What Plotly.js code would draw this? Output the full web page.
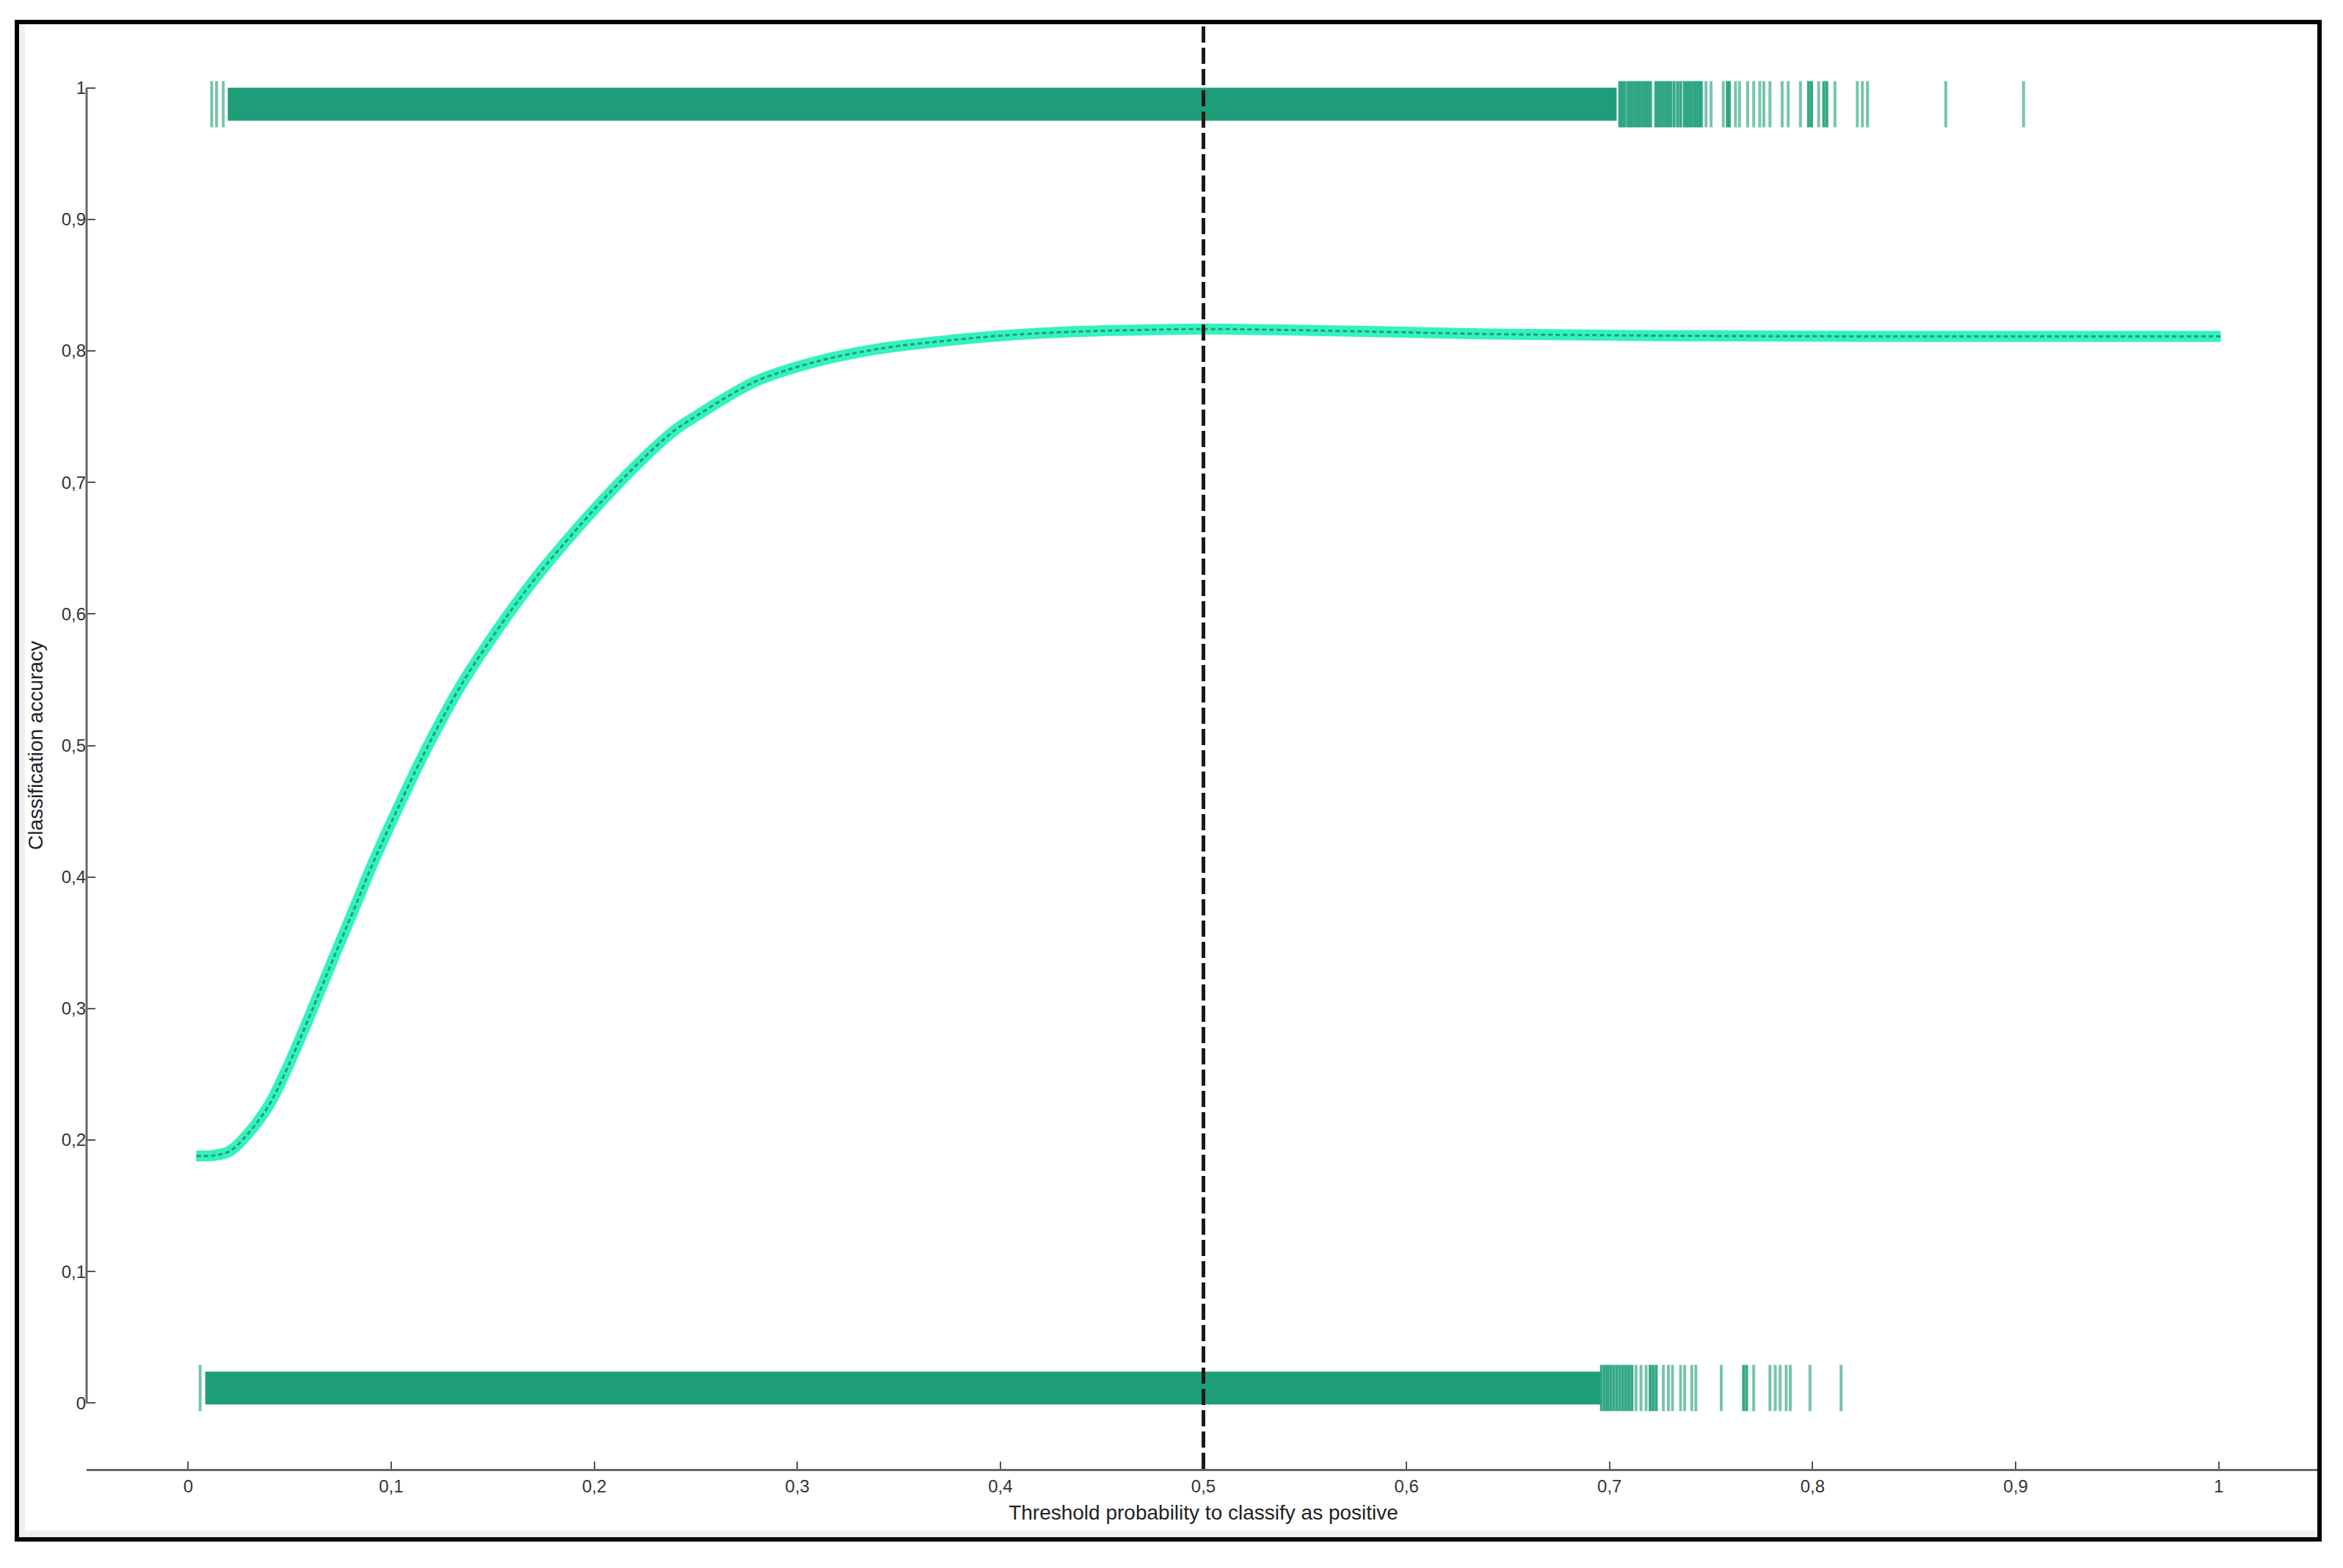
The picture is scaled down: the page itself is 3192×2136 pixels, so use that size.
<!DOCTYPE html>
<html>
<head>
<meta charset="utf-8">
<script src="https://cdn.plot.ly/plotly-3.0.1.min.js"></script>
<style>
  html, body { margin: 0; padding: 0; background: #ffffff; }
  #chart { width: 3192px; height: 2136px; }
</style>
</head>
<body>
<div id="chart"></div>
<script>
// Accuracy curve
const thresholds = [0.004, 0.012, 0.0205, 0.0293, 0.0397, 0.0468, 0.0555, 0.0643, 0.073, 0.0818,
    0.0906, 0.0994, 0.1168, 0.1344, 0.1519, 0.1694, 0.1869, 0.2045, 0.222, 0.2395,
    0.2508, 0.2658, 0.2808, 0.3108, 0.3407, 0.3707, 0.4006, 0.4306, 0.4605, 0.4995,
    0.5354, 0.5804, 0.6404, 0.7207, 0.8, 0.9, 1.001];
const accuracy = [0.188, 0.1882, 0.1916, 0.2045, 0.2263, 0.248, 0.2784, 0.311, 0.3436, 0.376,
    0.409, 0.4393, 0.4957, 0.5458, 0.587, 0.624, 0.6566, 0.687, 0.715, 0.7395,
    0.751, 0.7654, 0.7777, 0.7924, 0.8017, 0.8073, 0.8116, 0.8142, 0.8156, 0.8166,
    0.816, 0.8147, 0.8128, 0.8116, 0.8111, 0.811, 0.811];

// Predicted probabilities of the positive class (rug at y = 1)
const posBandStart = [0.0195];
const posBandEnd = [0.7035];
const posRug = [0.0116, 0.014, 0.0173,
    0.705, 0.7062, 0.7075, 0.709, 0.7102, 0.7115, 0.7128, 0.714, 0.7152, 0.7165, 0.7178, 0.719, 0.7202,
    0.7228, 0.724, 0.7252, 0.7265, 0.7278, 0.729, 0.7302, 0.7318, 0.7335, 0.735, 0.7368, 0.738, 0.7392,
    0.7405, 0.7418, 0.743, 0.7442, 0.7452,
    0.7475, 0.750, 0.756, 0.758, 0.759, 0.762, 0.764,
    0.768, 0.771, 0.774, 0.776, 0.779, 0.785, 0.788, 0.794, 0.798, 0.7995,
    0.803, 0.8055, 0.807, 0.811, 0.822, 0.8245, 0.827, 0.8656, 0.9039];

// Predicted probabilities of the negative class (rug at y = 0)
const negBandStart = [0.0084];
const negBandEnd = [0.6955];
const negRug = [0.0059, 0.696, 0.6975, 0.699, 0.7005, 0.702, 0.7035, 0.705, 0.7065, 0.708, 0.7095,
    0.711, 0.713, 0.7155, 0.718, 0.720, 0.7215, 0.723, 0.7265, 0.729, 0.731,
    0.735, 0.737, 0.7405, 0.7425, 0.755, 0.766, 0.7675, 0.771, 0.779, 0.7816,
    0.784, 0.787, 0.789, 0.7987, 0.814];

const cutoff = 0.5;

const W = 3192, H = 2136;
const M = { l: 118, r: 31, t: 30, b: 135 };
const plotW = W - M.l - M.r, plotH = H - M.t - M.b;
// pixel -> paper helpers for the screenshot frame
const px = x => (x - M.l) / plotW;
const py = y => (H - M.b - y) / plotH;

const rugColor = '#1e9e78';
const rugThin = 'rgba(27,158,119,0.6)';
const rugH = 0.025;
const posY = 1 - rugH / 2;
const negY = 0 + rugH / 2 - 0.001;

function band(starts, ends, yc) {
    return {
        type: 'bar', orientation: 'h',
        base: starts,
        x: starts.map((s, i) => ends[i] - s),
        y: starts.map(() => yc),
        width: starts.map(() => rugH),
        marker: { color: rugColor, line: { width: 0 } },
        hoverinfo: 'skip', showlegend: false,
    };
}

function rug(vals, yc) {
    // ticks packed close together read as solid, lone ones stay light
    const colors = vals.map((v, i) => {
        const near = vals.some((w, j) => j !== i && Math.abs(w - v) < 0.0017);
        return near ? 'rgba(30,158,120,0.9)' : rugThin;
    });
    return {
        type: 'scatter', mode: 'markers',
        x: vals, y: vals.map(() => yc),
        marker: { symbol: 'line-ns', size: 45, line: { width: 4, color: colors } },
        hoverinfo: 'skip', showlegend: false,
    };
}

const tickFont = { family: 'Liberation Sans, Arial, sans-serif', size: 24, color: '#333333' };
const titleFont = { family: 'Liberation Sans, Arial, sans-serif', size: 28, color: '#222222' };

Plotly.newPlot('chart', [
    band(posBandStart, posBandEnd, posY),
    band(negBandStart, negBandEnd, negY),
    rug(posRug, posY),
    rug(negRug, negY),
    {
        x: thresholds, y: accuracy,
        type: 'scatter', mode: 'lines',
        line: { color: '#33f2bd', width: 15, shape: 'spline', smoothing: 1 },
        hoverinfo: 'skip', showlegend: false,
    },
    {
        x: thresholds, y: accuracy,
        type: 'scatter', mode: 'lines',
        line: { color: 'rgba(25,130,100,0.75)', width: 3, dash: '6px,4px', shape: 'spline', smoothing: 1 },
        hoverinfo: 'skip', showlegend: false,
    },
], {
    width: W, height: H,
    margin: M,
    separators: ',.',
    barmode: 'overlay',
    paper_bgcolor: '#ffffff',
    plot_bgcolor: '#ffffff',
    xaxis: {
        range: [-0.05, 1.05], tick0: 0, dtick: 0.1,
        showgrid: false, zeroline: false,
        showline: true, linecolor: '#666666', linewidth: 3,
        ticks: 'inside', ticklen: 10, tickwidth: 2, tickcolor: '#555555',
        tickfont: tickFont,
        title: { text: 'Threshold probability to classify as positive', font: titleFont, standoff: 14 },
    },
    yaxis: {
        range: [-0.05, 1.05], tick0: 0, dtick: 0.1,
        showgrid: false, zeroline: false, showline: false,
        ticks: 'inside', ticklen: 12, tickwidth: 2, tickcolor: '#555555',
        tickfont: tickFont,
        title: { text: 'Classification accuracy', font: titleFont, standoff: 16 },
    },
    shapes: [
        // trimmed y spine
        { type: 'line', xref: 'paper', yref: 'y', x0: 0, x1: 0, y0: 0, y1: 1,
          line: { color: '#666666', width: 3 } },
        // cutoff line
        { type: 'line', xref: 'x', yref: 'paper', x0: cutoff, x1: cutoff, y0: 0, y1: 1,
          line: { color: '#1a1a1a', width: 5, dash: '22px,7px' } },
        // screenshot frame
        { type: 'rect', xref: 'paper', yref: 'paper', x0: px(26), x1: px(34), y0: py(2094), y1: py(33),
          fillcolor: '#efefef', line: { width: 0 }, layer: 'below' },
        { type: 'rect', xref: 'paper', yref: 'paper', x0: px(26), x1: px(3157), y0: py(2094), y1: py(2085),
          fillcolor: '#efefef', line: { width: 0 }, layer: 'below' },
        { type: 'rect', xref: 'paper', yref: 'paper', x0: px(23), x1: px(3160), y0: py(2097), y1: py(30),
          line: { color: '#000000', width: 6 } },
    ],
}, { staticPlot: true });
</script>
</body>
</html>
